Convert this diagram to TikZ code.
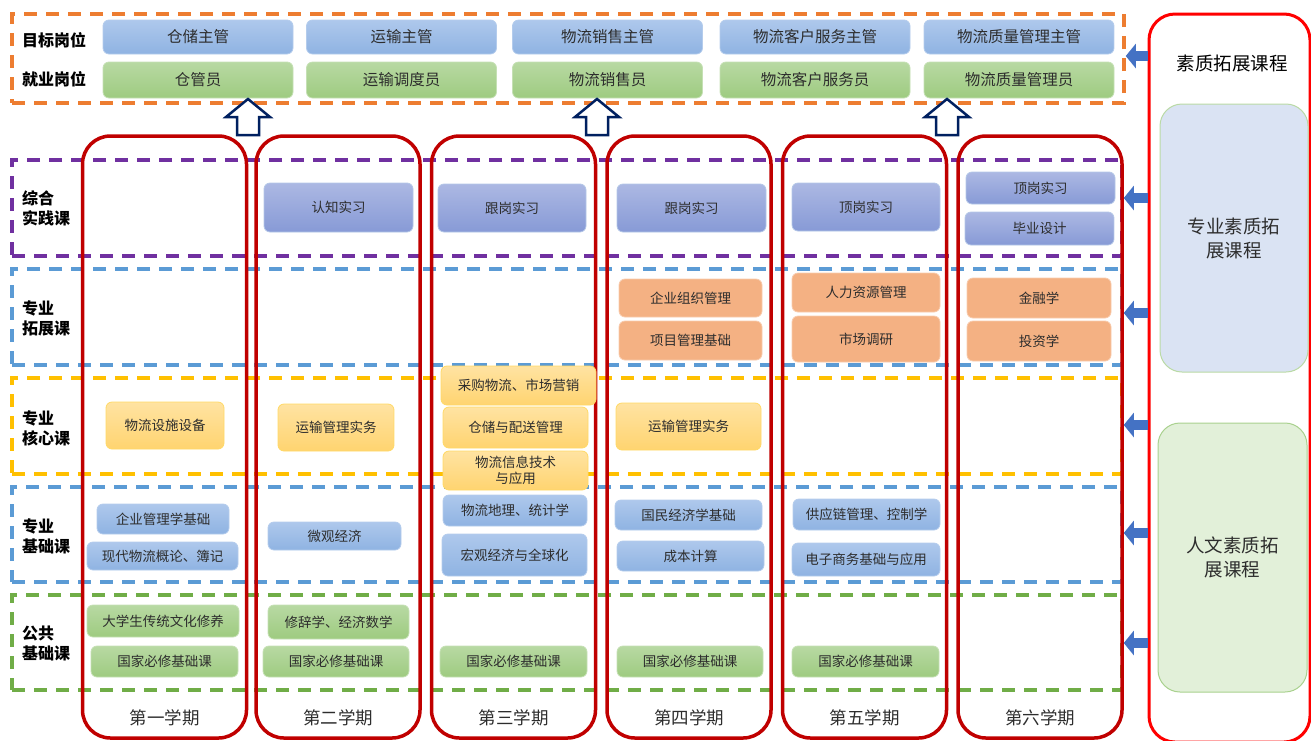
\documentclass[tikz,border=0pt]{standalone}
\usepackage{fontspec}
\setmainfont{Noto Sans CJK SC}
\usepackage{xcolor}
\usetikzlibrary{arrows.meta}
\usetikzlibrary{positioning}
\definecolor{semred}{RGB}{192,0,0}
\definecolor{jobframe}{RGB}{237,125,49}
\definecolor{pracframe}{RGB}{112,48,160}
\definecolor{skyframe}{RGB}{91,155,213}
\definecolor{coreframe}{RGB}{255,192,0}
\definecolor{pubframe}{RGB}{112,173,71}
\definecolor{arrblue}{RGB}{68,114,196}
\definecolor{navyarr}{RGB}{0,32,96}
\definecolor{txtgray}{RGB}{45,45,45}
\definecolor{goaltop}{RGB}{174,200,236}
\definecolor{goalbot}{RGB}{143,179,226}
\definecolor{goalline}{RGB}{180,204,236}
\definecolor{greentop}{RGB}{184,217,163}
\definecolor{greenbot}{RGB}{158,203,128}
\definecolor{greenline}{RGB}{197,224,180}
\definecolor{practop}{RGB}{172,184,227}
\definecolor{pracbot}{RGB}{135,154,214}
\definecolor{pracline}{RGB}{180,199,231}
\definecolor{extfill}{RGB}{244,177,131}
\definecolor{extline}{RGB}{248,203,173}
\definecolor{coretop}{RGB}{255,227,162}
\definecolor{corebot}{RGB}{255,212,112}
\definecolor{coreline}{RGB}{255,217,102}
\definecolor{proffill}{RGB}{218,227,243}
\definecolor{humfill}{RGB}{226,240,217}
\definecolor{softgreen}{RGB}{169,209,142}

\begin{document}
\begin{tikzpicture}[x=1pt,y=-1pt,
		band/.style={draw=#1, line width=3.5pt, dash pattern=on 13pt off 9pt, minimum width=1110, inner sep=0},
		semcol/.style={draw=semred, line width=3.5pt, rounded corners=28pt, minimum width=164, minimum height=602, inner sep=0},
		box/.style={rounded corners=6pt, line width=0.8pt, inner sep=0, align=center, text=txtgray, font=\fontsize{13.5}{16}\selectfont},
		goalbox/.style={box, draw=goalline, top color=goaltop, bottom color=goalbot, minimum width=190, minimum height=34, font=\fontsize{15.5}{18}\selectfont},
		jobbox/.style={box, draw=greenline, top color=greentop, bottom color=greenbot, minimum width=190, minimum height=36, font=\fontsize{15.5}{18}\selectfont},
		pracbox/.style={box, draw=pracline, top color=practop, bottom color=pracbot},
		extbox/.style={box, draw=extline, fill=extfill},
		corebox/.style={box, draw=coreline, top color=coretop, bottom color=corebot},
		basebox/.style={box, draw=goalline, top color=goaltop, bottom color=goalbot},
		pubbox/.style={box, draw=greenline, top color=greentop, bottom color=greenbot},
		rowlabel/.style={anchor=west, align=left, inner sep=0, font=\fontsize{16}{20}\selectfont\bfseries},
		semlabel/.style={text=txtgray, font=\fontsize{17.5}{20}\selectfont},
		sidebox/.style={rounded corners=22pt, line width=1pt, inner sep=0, align=center, text=txtgray, font=\fontsize{18.5}{24}\selectfont},
		bluearr/.style={draw=arrblue, line width=10pt, -{Triangle[length=10pt,width=24pt]}},
		hollowarr/.style={draw=navyarr, fill=white, line width=2.5pt, line join=miter}]
	\useasboundingbox (0,0) rectangle (1311,740);

	% frames of the rows
	\node[band=jobframe, minimum width=1112, minimum height=89] (jobs) at (568,58.5) {};
	\node[band=pracframe, minimum height=96] (prac) at (567,208) {};
	\node[band=skyframe, minimum height=96] (ext) at (567,317) {};
	\node[band=coreframe, minimum height=96] (core) at (567,426) {};
	\node[band=skyframe, minimum height=95] (base) at (567,534.5) {};
	\node[band=pubframe, minimum height=95] (pub) at (567,642.5) {};

	% row labels
	\node[rowlabel] (lgoal) at (22,40) {目标岗位};
	\node[rowlabel] (ljob) at (22,79) {就业岗位};
	\node[rowlabel] (lprac) at (22,208) {综合\\实践课};
	\node[rowlabel] (lext) at (22,318) {专业\\拓展课};
	\node[rowlabel] (lcore) at (22,428) {专业\\核心课};
	\node[rowlabel] (lbase) at (22,536) {专业\\基础课};
	\node[rowlabel] (lpub) at (22,643) {公共\\基础课};

	% semesters
	\foreach \i/\cx/\lbl in {1/164.5/第一学期, 2/338/第二学期, 3/513.5/第三学期, 4/689/第四学期, 5/864.5/第五学期, 6/1040/第六学期}{
		\node[semcol] (s\i) at (\cx,437) {};
		\node[semlabel] (t\i) at (\cx,718) {\lbl};
	}

	% target and entry jobs
	\foreach \i/\cx/\goal/\job in {1/198/仓储主管/仓管员, 2/401.5/运输主管/运输调度员, 3/607.5/物流销售主管/物流销售员, 4/815/物流客户服务主管/物流客户服务员, 5/1019/物流质量管理主管/物流质量管理员}{
		\node[goalbox] (g\i) at (\cx,37) {\goal};
		\node[jobbox] (j\i) at (\cx,80) {\job};
	}

	% practice
	\node[pracbox, minimum width=149, minimum height=49] (p2) at (338.5,207.5) {认知实习};
	\node[pracbox, minimum width=148, minimum height=48] (p3) at (512,208) {跟岗实习};
	\node[pracbox, minimum width=149, minimum height=48] (p4) at (691.5,208) {跟岗实习};
	\node[pracbox, minimum width=148, minimum height=48] (p5) at (866,207) {顶岗实习};
	\node[pracbox, minimum width=149, minimum height=32] (p6a) at (1040.5,188) {顶岗实习};
	\node[pracbox, minimum width=149, minimum height=33] (p6b) at (1039.5,228.5) {毕业设计};

	% extension
	\node[extbox, minimum width=143, minimum height=38] (e4a) at (690.5,298) {企业组织管理};
	\node[extbox, minimum width=143, minimum height=39] (e4b) at (690.5,340.5) {项目管理基础};
	\node[extbox, minimum width=148, minimum height=39] (e5a) at (866,292.5) {人力资源管理};
	\node[extbox, minimum width=148, minimum height=46] (e5b) at (866,339) {市场调研};
	\node[extbox, minimum width=144, minimum height=40] (e6a) at (1039,298) {金融学};
	\node[extbox, minimum width=144, minimum height=40] (e6b) at (1039,341) {投资学};

	% core
	\node[corebox, minimum width=118, minimum height=47] (c1) at (165,425.5) {物流设施设备};
	\node[corebox, minimum width=116, minimum height=47] (c2) at (336,427.5) {运输管理实务};
	\node[corebox, minimum width=155, minimum height=39] (c3a) at (518.5,385.5) {采购物流、市场营销};
	\node[corebox, minimum width=145, minimum height=41] (c3b) at (515.5,427.5) {仓储与配送管理};
	\node[corebox, minimum width=145, minimum height=39] (c3c) at (515.5,470.5) {物流信息技术\\与应用};
	\node[corebox, minimum width=145, minimum height=47] (c4) at (688.5,426.5) {运输管理实务};

	% basics
	\node[basebox, minimum width=132, minimum height=30] (b1a) at (163,519) {企业管理学基础};
	\node[basebox, minimum width=151, minimum height=28] (b1b) at (162.5,556) {现代物流概论、簿记};
	\node[basebox, minimum width=133, minimum height=28] (b2) at (334.5,536) {微观经济};
	\node[basebox, minimum width=144, minimum height=31] (b3a) at (515,510.5) {物流地理、统计学};
	\node[basebox, minimum width=145, minimum height=42] (b3b) at (514.5,555) {宏观经济与全球化};
	\node[basebox, minimum width=147, minimum height=30] (b4a) at (688.5,515) {国民经济学基础};
	\node[basebox, minimum width=147, minimum height=30] (b4b) at (690.5,556) {成本计算};
	\node[basebox, minimum width=147, minimum height=31] (b5a) at (866.5,514.5) {供应链管理、控制学};
	\node[basebox, minimum width=148, minimum height=33] (b5b) at (866,559.5) {电子商务基础与应用};

	% public
	\node[pubbox, minimum width=152, minimum height=32] (u1a) at (163,621) {大学生传统文化修养};
	\node[pubbox, minimum width=147, minimum height=31] (u1b) at (164.5,661.5) {国家必修基础课};
	\node[pubbox, minimum width=141, minimum height=34] (u2a) at (338.5,622) {修辞学、经济数学};
	\node[pubbox, minimum width=146, minimum height=31] (u2b) at (336,661.5) {国家必修基础课};
	\node[pubbox, minimum width=147, minimum height=31] (u3) at (513.5,661.5) {国家必修基础课};
	\node[pubbox, minimum width=146, minimum height=31] (u4) at (690,661.5) {国家必修基础课};
	\node[pubbox, minimum width=147, minimum height=31] (u5) at (865.5,661.5) {国家必修基础课};

	% quality courses on the right
	\node[draw=red, line width=3pt, rounded corners=26pt, minimum width=161, minimum height=728, inner sep=0] (qual) at (1229.5,378) {};
	\node[font=\fontsize{18.5}{24}\selectfont] (qtitle) at (1232,63) {素质拓展课程};
	\node[sidebox, draw=softgreen!80, fill=proffill, minimum width=148, minimum height=268] (prof) at (1234,238) {专业素质拓\\展课程};
	\node[sidebox, draw=softgreen, fill=humfill, minimum width=149, minimum height=269] (hum) at (1232.5,557.5) {人文素质拓\\展课程};

	% arrows into the rows
	\draw[bluearr] (qual.west |- 0,56) -- (jobs.east |- 0,56);
	\draw[bluearr] (qual.west |- 0,198) -- (prac.east |- 0,198);
	\draw[bluearr] (qual.west |- 0,313) -- (ext.east |- 0,313);
	\draw[bluearr] (qual.west |- 0,425) -- (core.east |- 0,425);
	\draw[bluearr] (qual.west |- 0,533) -- (base.east |- 0,533);
	\draw[bluearr] (qual.west |- 0,643) -- (pub.east |- 0,643);

	% hollow arrows up to the jobs
	\foreach \ax in {248,597,947}
		\draw[hollowarr] (\ax-11,135) -- (\ax-11,117) -- (\ax-22,117) -- (\ax,99) -- (\ax+22,117) -- (\ax+11,117) -- (\ax+11,135) -- cycle;
\end{tikzpicture}
\end{document}
